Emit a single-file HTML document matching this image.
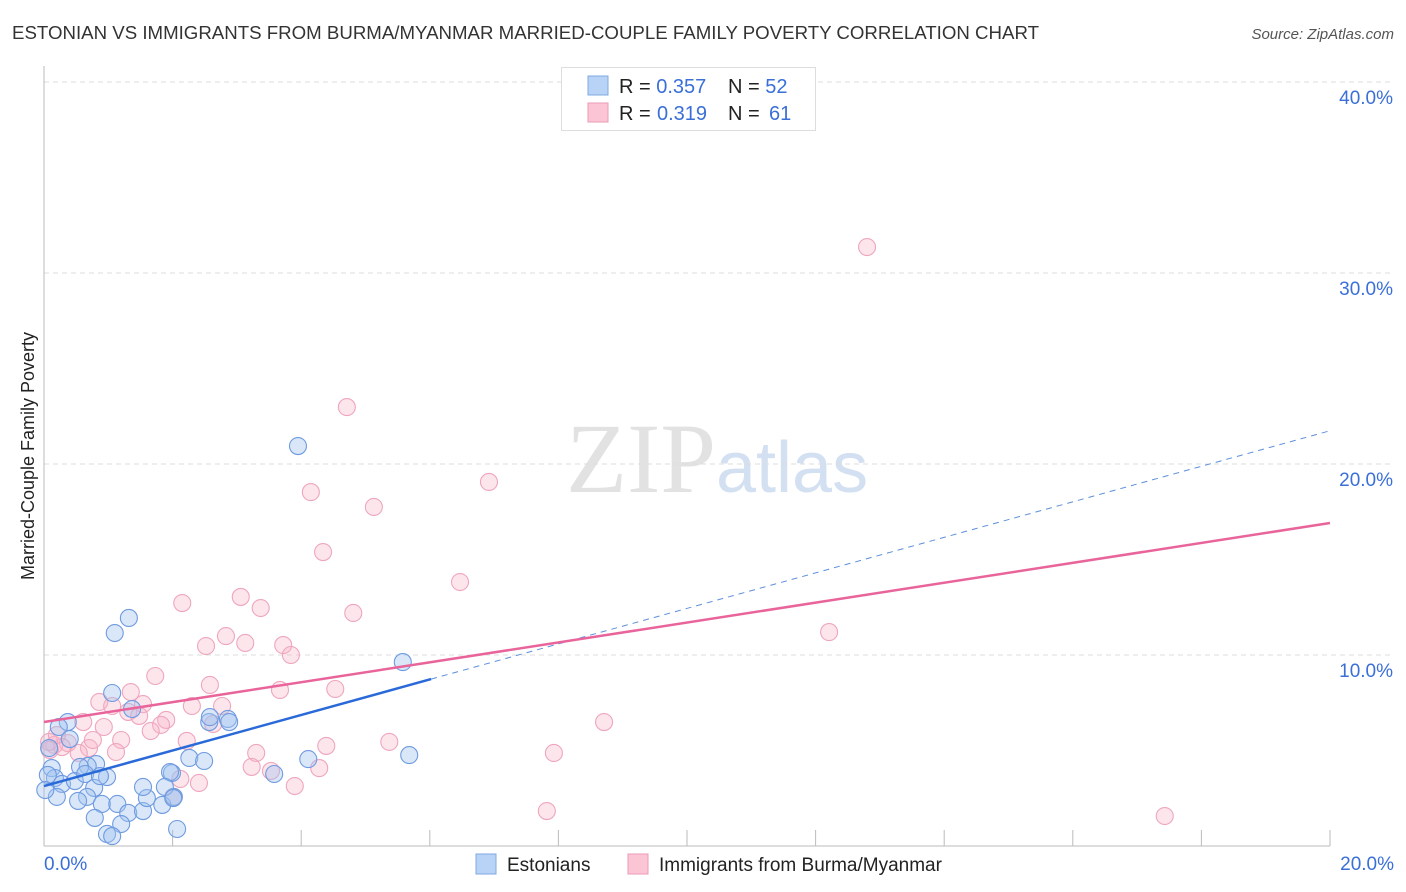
<!DOCTYPE html>
<html><head><meta charset="utf-8"><style>
body{margin:0;background:#fff;font-family:"Liberation Sans",sans-serif;}
svg{display:block}
</style></head><body>
<svg id="chart" width="1406" height="892">
<text x="12" y="39" font-size="18" fill="#333" textLength="1027" lengthAdjust="spacingAndGlyphs">ESTONIAN VS IMMIGRANTS FROM BURMA/MYANMAR MARRIED-COUPLE FAMILY POVERTY CORRELATION CHART</text>
<text x="1394" y="39" font-size="15" fill="#555" font-style="italic" text-anchor="end">Source: ZipAtlas.com</text>
<text x="716" y="492" font-size="100" fill="#e2e2e2" text-anchor="end" font-family="Liberation Serif,serif">ZIP</text>
<text x="716" y="492" font-size="72" fill="#d3e0f2">atlas</text>
<text transform="translate(34,456) rotate(-90)" font-size="18" fill="#222" text-anchor="middle">Married-Couple Family Poverty</text>
<g id="grid"></g><g id="axes"></g><g id="pts"></g><g id="lines"></g>
<g>
<rect x="561.5" y="67.5" width="254" height="63" fill="#fff" stroke="#ddd"/>
<rect x="588" y="76" width="20" height="19" fill="#b8d3f5" stroke="#7fa8e0"/>
<rect x="588" y="103" width="20" height="19" fill="#fcc5d5" stroke="#eb9ab4"/>
<text x="619" y="93" font-size="20" fill="#222">R = <tspan fill="#3a6fd8">0.357</tspan><tspan x="728">N = </tspan><tspan fill="#3a6fd8">52</tspan></text>
<text x="619" y="120" font-size="20" fill="#222">R = <tspan x="657" fill="#3a6fd8">0.319</tspan><tspan x="728">N = </tspan><tspan x="769" fill="#3a6fd8">61</tspan></text>
</g>
<g>
<rect x="476" y="854" width="20" height="20" fill="#b8d3f5" stroke="#7fa8e0"/>
<text x="507" y="871" font-size="19" fill="#222">Estonians</text>
<rect x="628" y="854" width="20" height="20" fill="#fcc5d5" stroke="#eb9ab4"/>
<text x="659" y="871" font-size="19" fill="#222">Immigrants from Burma/Myanmar</text>
</g>
</svg>
<script>
const yTicks=[10,20,30,40];
const yTickLabels=["10.0%","20.0%","30.0%","40.0%"];
const xTicks=[0,2,4,6,8,10,12,14,16,18,20];
const blueX=[3.95,1.32,1.10,1.06,1.37,0.37,5.58,2.57,2.86,2.58,2.88,2.26,2.49,4.11,5.68,3.58,1.99,1.96,0.23,0.40,0.12,0.17,0.06,0.28,0.81,0.68,0.56,0.48,0.98,0.78,0.67,0.20,0.53,0.90,1.14,1.31,1.54,1.60,1.84,2.02,1.54,0.79,1.20,0.98,1.06,2.07,1.88,2.01,0.02,0.08,0.64,0.87];
const blueY=[20.94,11.94,11.15,8.01,7.17,6.49,9.63,6.49,6.65,6.75,6.49,4.61,4.45,4.55,4.76,3.77,3.82,3.87,6.23,5.60,4.08,3.56,3.72,3.25,4.29,4.19,4.14,3.40,3.61,3.04,2.57,2.57,2.36,2.20,2.20,1.73,1.83,2.51,2.15,2.57,3.09,1.47,1.15,0.63,0.52,0.89,3.09,2.51,2.93,5.13,3.77,3.66];
const pinkX=[12.80,4.71,4.15,6.92,5.13,4.34,6.47,2.15,3.06,3.37,4.81,12.21,2.83,2.52,3.13,3.72,3.84,1.73,2.58,3.67,4.53,1.35,0.86,1.06,1.54,2.30,2.77,1.31,1.48,1.90,1.82,0.61,0.93,8.71,1.66,1.20,2.22,2.63,0.37,0.70,0.16,0.28,0.09,0.54,1.12,3.30,4.39,5.37,7.93,2.12,2.41,3.23,3.53,4.28,3.90,7.82,17.43,2.01,0.08,0.76,0.20];
const pinkY=[31.36,22.98,18.53,19.06,17.75,15.39,13.82,12.72,13.04,12.46,12.20,11.20,10.99,10.47,10.63,10.52,10.00,8.90,8.43,8.17,8.22,8.06,7.54,7.33,7.43,7.33,7.33,7.02,6.81,6.60,6.34,6.49,6.23,6.49,6.02,5.55,5.50,6.39,5.39,5.13,5.29,5.18,5.03,4.87,4.92,4.87,5.24,5.45,4.87,3.51,3.30,4.14,3.93,4.08,3.14,1.83,1.57,2.57,5.45,5.55,5.81];
const blueTrend=[3.14,0.93];
const pinkTrend=[6.49,0.521];
const NS="http://www.w3.org/2000/svg";
const X=v=>44+v*64.3, Y=v=>846-v*19.1;
function mk(p,t,a){const e=document.createElementNS(NS,t);for(const k in a)e.setAttribute(k,a[k]);p.appendChild(e);return e;}
const grid=document.getElementById('grid'),axes=document.getElementById('axes'),pts=document.getElementById('pts'),lines=document.getElementById('lines');
yTicks.forEach((t,i)=>{const l=mk(grid,'line',{x1:44,x2:1394,y1:Y(t),y2:Y(t),stroke:'#ddd','stroke-dasharray':'5,4'});


const tx=mk(grid,'text',{x:1393,y:Y(t)+22,'font-size':19,fill:'#3a6fd8','text-anchor':'end'});tx.textContent=yTickLabels[i];

});
mk(axes,'line',{x1:44,x2:44,y1:66,y2:846,stroke:'#bbb'});
mk(axes,'line',{x1:44,x2:1330,y1:846,y2:846,stroke:'#bbb'});
xTicks.forEach(t=>{const l=mk(axes,'line',{x1:X(t),x2:X(t),y1:830,y2:846,stroke:'#bbb'});

});
const x0=mk(axes,'text',{x:44,y:870,'font-size':19,fill:'#3a6fd8'});x0.textContent='0.0%';


const x1=mk(axes,'text',{x:1394,y:870,'font-size':19,fill:'#3a6fd8','text-anchor':'end'});x1.textContent='20.0%';


pinkX.forEach((v,i)=>{const c=mk(pts,'circle',{cx:X(v),cy:Y(pinkY[i]),r:8.5,fill:'rgba(248,180,200,0.35)',stroke:'#eea6be','stroke-width':1.1});

});
blueX.forEach((v,i)=>{const c=mk(pts,'circle',{cx:X(v),cy:Y(blueY[i]),r:8.5,fill:'rgba(160,195,240,0.4)',stroke:'#6f9be0','stroke-width':1.1});

});
const bx=6.02;
const bl=mk(lines,'line',{x1:X(0),y1:Y(blueTrend[0]),x2:X(bx),y2:Y(blueTrend[0]+blueTrend[1]*bx),stroke:'#2a6ad8','stroke-width':2.5});


const bd=mk(lines,'line',{x1:X(bx),y1:Y(blueTrend[0]+blueTrend[1]*bx),x2:X(20),y2:Y(blueTrend[0]+blueTrend[1]*20),stroke:'#5d8fdb','stroke-width':1,'stroke-dasharray':'6,5'});


const pl=mk(lines,'line',{x1:X(0),y1:Y(pinkTrend[0]),x2:X(20),y2:Y(pinkTrend[0]+pinkTrend[1]*20),stroke:'#e8649a','stroke-width':2.5});


</script>
</body></html>
